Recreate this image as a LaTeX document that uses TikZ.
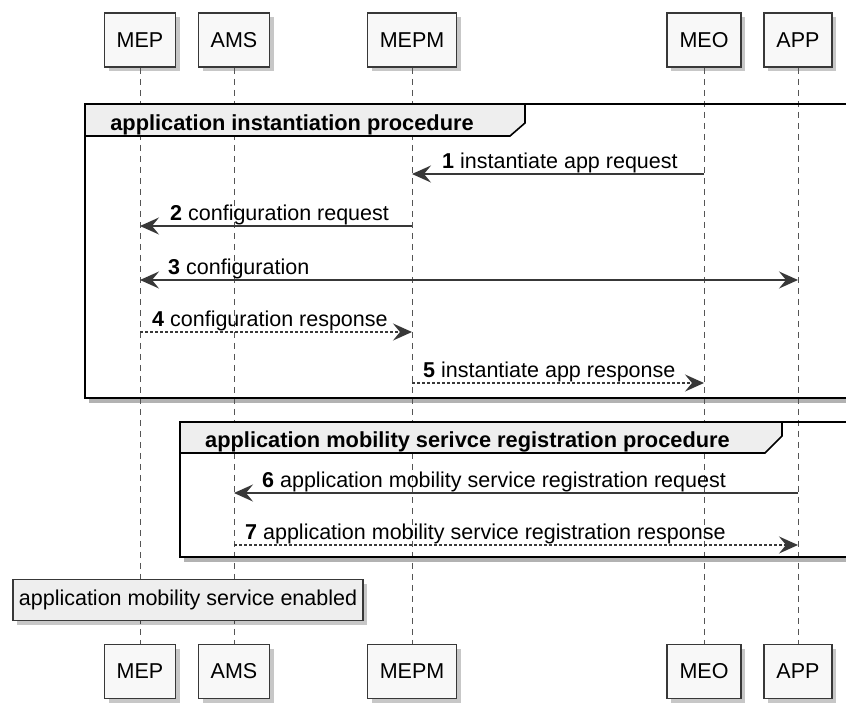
\documentclass[tikz,border=0pt]{standalone}
\usepackage{fontspec}
\setmainfont{Liberation Sans}
\usetikzlibrary{arrows.meta,shadows}
\definecolor{partfill}{HTML}{F8F8F8}
\definecolor{hdrfill}{HTML}{EEEEEE}
\definecolor{linecol}{HTML}{383838}
\definecolor{lifecol}{HTML}{555555}
\begin{document}
\begin{tikzpicture}[x=1pt,y=-1pt,
  every node/.style={font=\fontsize{21.5}{26}\selectfont},
  softshadow/.style={drop shadow={shadow xshift=4pt, shadow yshift=-4pt, fill=black, opacity=0.22}},
  part/.style={draw=linecol, line width=1.5pt, fill=partfill, minimum height=54pt, inner sep=0pt, softshadow},
  life/.style={draw=lifecol, line width=1pt, dash pattern=on 6pt off 5pt},
  msg/.style={draw=linecol, line width=1.3pt, -{Stealth[length=19pt, width=17pt, inset=7pt]}},
  rmsg/.style={draw=linecol, line width=1.3pt, dash pattern=on 2.5pt off 2.5pt, -{Stealth[length=19pt, width=17pt, inset=7pt]}},
  bimsg/.style={draw=linecol, line width=1.3pt, {Stealth[length=19pt, width=17pt, inset=7pt]}-{Stealth[length=19pt, width=17pt, inset=7pt]}},
  lbl/.style={anchor=base west, inner sep=0pt, text=black},
  grpbg/.style={fill=white, drop shadow={shadow xshift=4pt, shadow yshift=-5pt, fill=black, opacity=0.3}},
  grpframe/.style={draw=black, line width=2.6pt},
  hdr/.style={draw=black, line width=1.6pt, fill=hdrfill},
  hdrtext/.style={anchor=base, inner sep=0pt, font=\fontsize{21.8}{26}\selectfont\bfseries},
  note/.style={draw=linecol, line width=1.2pt, fill=hdrfill, minimum width=350pt, minimum height=41pt, inner sep=0pt, softshadow}
]
\clip (0,0) rectangle (846,704);
\fill[white] (0,0) rectangle (846,704);

% group backgrounds with shadow
\path[grpbg] (85,104) rectangle (860,398);
\path[grpbg] (180,422) rectangle (860,557);

% participants
\node[part, minimum width=71pt] (mepT) at (140,40) {MEP};
\node[part, minimum width=71pt] (amsT) at (234,40) {AMS};
\node[part, minimum width=89pt] (mepmT) at (412,40) {MEPM};
\node[part, minimum width=74pt] (meoT) at (704,40) {MEO};
\node[part, minimum width=68pt] (appT) at (798,40) {APP};
\node[part, minimum width=71pt] (mepB) at (140,671.5) {MEP};
\node[part, minimum width=71pt] (amsB) at (234,671.5) {AMS};
\node[part, minimum width=89pt] (mepmB) at (412,671.5) {MEPM};
\node[part, minimum width=74pt] (meoB) at (704,671.5) {MEO};
\node[part, minimum width=68pt] (appB) at (798,671.5) {APP};

% lifelines
\draw[life] (mepT.south) -- (mepB.north);
\draw[life] (amsT.south) -- (amsB.north);
\draw[life] (mepmT.south) -- (mepmB.north);
\draw[life] (meoT.south) -- (meoB.north);
\draw[life] (appT.south) -- (appB.north);

% group frames
\draw[grpframe] (85,104) rectangle (860,398);
\draw[hdr] (85,104) -- (525,104) -- (525,123) -- (510,136) -- (85,136) -- cycle;
\node[hdrtext] (g1) at (292,130) {application instantiation procedure};

\draw[grpframe] (180,422) rectangle (860,557);
\draw[hdr] (180,422) -- (782,422) -- (782,436) -- (765,453) -- (180,453) -- cycle;
\node[hdrtext] (g2) at (467.5,447) {application mobility serivce registration procedure};

% message anchor points on lifelines
\coordinate (meo1) at (704,174);  \coordinate (mepm1) at (412,174);
\coordinate (mepm2) at (412,226); \coordinate (mep2) at (140,226);
\coordinate (mep3) at (140,280);  \coordinate (app3) at (798,280);
\coordinate (mep4) at (140,332);  \coordinate (mepm4) at (412,332);
\coordinate (mepm5) at (412,383); \coordinate (meo5) at (704,383);
\coordinate (app6) at (798,493);  \coordinate (ams6) at (234,493);
\coordinate (ams7) at (234,545);  \coordinate (app7) at (798,545);

\draw[msg] (meo1) -- (mepm1);
\node[lbl] (l1) at (442,168) {\textbf{1} instantiate app request};
\draw[msg] (mepm2) -- (mep2);
\node[lbl] (l2) at (170,220) {\textbf{2} configuration request};
\draw[bimsg] (mep3) -- (app3);
\node[lbl] (l3) at (168,274) {\textbf{3} configuration};
\draw[rmsg] (mep4) -- (mepm4);
\node[lbl] (l4) at (152,326) {\textbf{4} configuration response};
\draw[rmsg] (mepm5) -- (meo5);
\node[lbl] (l5) at (423,377) {\textbf{5} instantiate app response};
\draw[msg] (app6) -- (ams6);
\node[lbl] (l6) at (262,487) {\textbf{6} application mobility service registration request};
\draw[rmsg] (ams7) -- (app7);
\node[lbl] (l7) at (245,539) {\textbf{7} application mobility service registration response};

% note
\node[note] (note) at (188,600) {application mobility service enabled};
\end{tikzpicture}
\end{document}
